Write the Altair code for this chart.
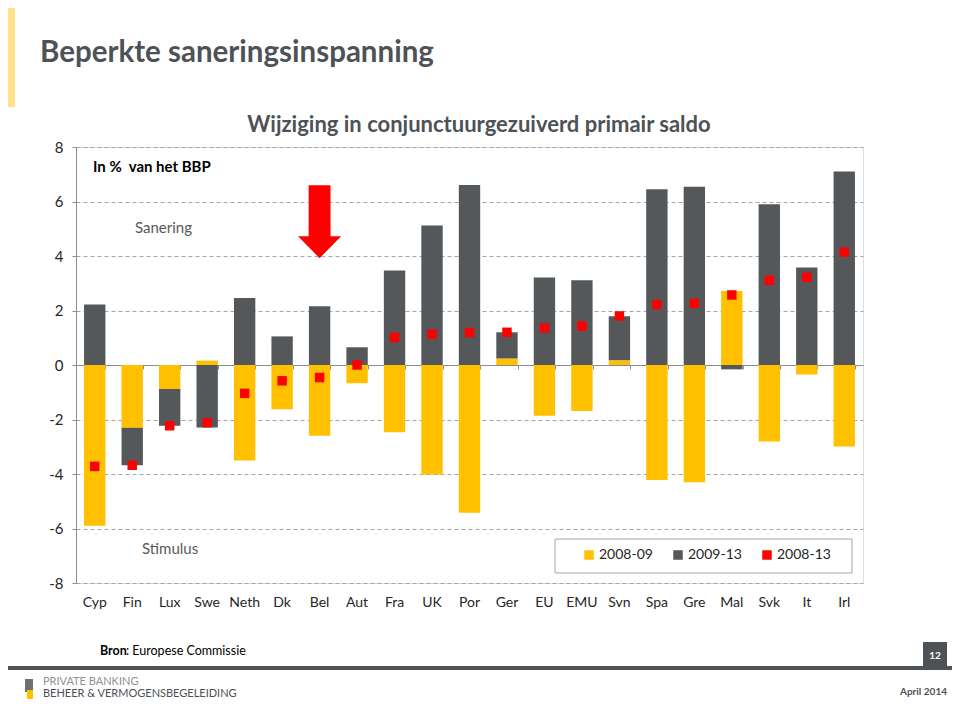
import altair as alt
import pandas as pd

countries = ["Cyp", "Fin", "Lux", "Swe", "Neth", "Dk", "Bel", "Aut", "Fra", "UK", "Por",
             "Ger", "EU", "EMU", "Svn", "Spa", "Gre", "Mal", "Svk", "It", "Irl"]
v0809 = [-5.9, -2.3, -0.88, 0.16, -3.5, -1.62, -2.6, -0.67, -2.47, -4.02, -5.42,
         0.24, -1.86, -1.69, 0.17, -4.22, -4.3, 2.72, -2.81, -0.35, -2.99]
v0913 = [2.22, -1.38, -1.35, -2.29, 2.46, 1.05, 2.16, 0.65, 3.47, 5.12, 6.61,
         0.96, 3.21, 3.11, 1.62, 6.45, 6.54, -0.16, 5.9, 3.58, 7.1]
v0813 = [-3.72, -3.68, -2.23, -2.12, -1.04, -0.58, -0.46, 0.0, 1.01, 1.13, 1.19,
         1.2, 1.36, 1.43, 1.8, 2.22, 2.26, 2.57, 3.11, 3.22, 4.14]
series = ["2008-09", "2009-13", "2008-13"]
colors = ["#FFC000", "#54585A", "#FF0000"]
y_ticks = [8, 6, 4, 2, 0, -2, -4, -6, -8]
arrow_country = ["Bel"]
arrow_value = [5.26]

n = len(countries)
bars = pd.DataFrame({
    "country": countries * 2,
    "series": [series[0]] * n + [series[1]] * n,
    "ord": [0] * n + [1] * n,
    "value": v0809 + v0913,
})
pts = pd.DataFrame({"country": countries, "series": [series[2]] * n, "value": v0813})
arrow_df = pd.DataFrame({"country": arrow_country, "value": arrow_value})
one = pd.DataFrame({"a": [0]})

W, H = 787, 436
FONT = "Lato"
DARK = "#4D5257"

xscale = alt.Scale(domain=countries, paddingInner=0.43, paddingOuter=0.215)
yscale = alt.Scale(domain=[-8, 8], nice=False, zero=False)
cscale = alt.Scale(domain=series, range=colors)

bar_layer = alt.Chart(bars).mark_bar().encode(
    x=alt.X("country:N", sort=countries, scale=xscale,
            axis=alt.Axis(title=None, labelAngle=0, domain=False, ticks=False, grid=False,
                          labelPadding=12, labelFontSize=14, labelColor="#262626",
                          labelFont=FONT, orient="bottom")),
    y=alt.Y("value:Q", stack="zero", scale=yscale,
            axis=alt.Axis(title=None, values=y_ticks, grid=True, gridDash=[4, 3],
                          gridColor="#A6A6A6", domainColor="#8C8C8C", tickColor="#8C8C8C",
                          tickSize=4, labelPadding=9, labelFontSize=15, labelColor="#262626",
                          labelFont=FONT,
                          labelExpr="datum.value < 0 ? '-' + abs(datum.value) : '' + datum.value")),
    color=alt.Color("series:N", scale=cscale,
                    legend=alt.Legend(title=None, orient="none", legendX=506, legendY=401,
                                      direction="horizontal", symbolType="square",
                                      symbolSize=90, labelFontSize=14, labelFont=FONT,
                                      labelColor="#262626", columnPadding=18, padding=0,
                                      symbolStrokeWidth=0, labelOffset=3)),
    order=alt.Order("ord:Q"),
)

pt_layer = alt.Chart(pts).mark_point(shape="square", filled=True, size=90, opacity=1).encode(
    x=alt.X("country:N", sort=countries, scale=xscale,
            axis=alt.Axis(title=None, labels=False, domain=True, domainColor="#8C8C8C",
                          ticks=True, tickBand="extent", tickSize=4, tickColor="#8C8C8C",
                          offset=-218, grid=False, orient="bottom")),
    y=alt.Y("value:Q", scale=yscale),
    color=alt.Color("series:N", scale=cscale),
)

arrow_path = "M-0.3,-1 L0.3,-1 L0.3,0.4 L0.59,0.4 L0,1 L-0.59,0.4 L-0.3,0.4 Z"
arrow_layer = alt.Chart(arrow_df).mark_point(
    shape=arrow_path, filled=True, size=5329, color="#FF0000", opacity=1
).encode(
    x=alt.X("country:N", sort=countries, scale=xscale, axis=None),
    y=alt.Y("value:Q", scale=yscale),
)


def txt(text, x, y, size, color, bold=False, align="left"):
    return alt.Chart(one).mark_text(
        text=text, font=FONT, fontSize=size, color=color, align=align, baseline="middle",
        fontWeight="bold" if bold else "normal"
    ).encode(x=alt.value(x), y=alt.value(y))


def box(x, x2, y, y2, fill, stroke=None):
    kw = dict(fill=fill)
    if stroke:
        kw.update(stroke=stroke, strokeWidth=1)
    return alt.Chart(one).mark_rect(**kw).encode(
        x=alt.value(x), x2=alt.value(x2), y=alt.value(y), y2=alt.value(y2))


annotations = [
    box(-71, -61, -145, -40, "#FFE28A"),
    txt("Beperkte saneringsinspanning", -36, -94, 29.5, DARK, bold=True),
    txt("Wijziging in conjunctuurgezuiverd primair saldo", 403, -22, 22, DARK, bold=True, align="center"),
    txt("In %\u00a0 van het BBP", 17, 20, 15, "#000000", bold=True),
    txt("Sanering", 59, 81, 15, "#595959"),
    txt("Stimulus", 66, 402, 15, "#595959"),
    box(479, 776, 392, 426, "#FFFFFF", "#A6A6A6"),
    txt("Bron", 24, 504, 12.5, "#000000", bold=True),
    txt(": Europese Commissie", 50, 504, 12.5, "#000000"),
    box(-71, 879, 519, 523, DARK),
    box(847, 871, 495, 523, DARK),
    txt("12", 859, 509, 10, "#FFFFFF", bold=True, align="center"),
    box(-51, -43, 532, 545, "#6B7075"),
    box(-49, -43, 543, 552, "#FFC000"),
    txt("PRIVATE BANKING", -33, 535, 11, "#8C9196"),
    txt("BEHEER & VERMOGENSBEGELEIDING", -33, 547, 11, DARK),
    txt("April 2014", 871, 545, 10, DARK, bold=True, align="right"),
]

chart = alt.layer(
    bar_layer, pt_layer, arrow_layer, *annotations
).resolve_axis(x="independent").properties(
    width=W, height=H,
    autosize=alt.AutoSizeParams(type="none"),
    padding={"left": 68, "top": 139, "right": 89, "bottom": 117},
).configure_view(stroke=None).configure(background="#FFFFFF")

chart.save("out.html", embed_options={"renderer": "svg", "actions": False})
